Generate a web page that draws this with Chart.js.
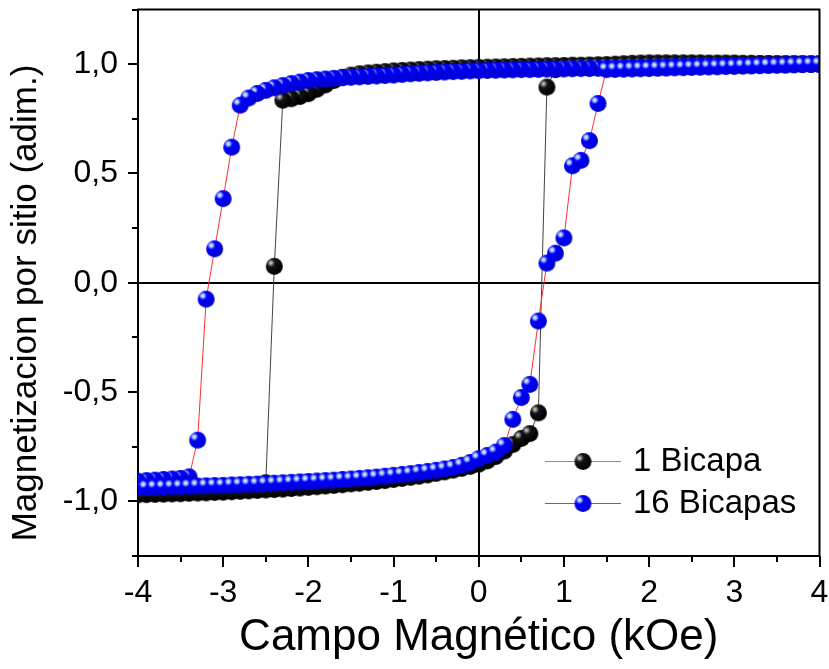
<!DOCTYPE html>
<html>
<head>
<meta charset="utf-8">
<title>Magnetizacion por sitio</title>
<script src="https://cdn.jsdelivr.net/npm/chart.js@4.4.1/dist/chart.umd.min.js"></script>
<style>
  html, body { margin: 0; padding: 0; background: #fff; }
  #grafico { display: block; }
</style>
</head>
<body>
<canvas id="grafico" width="829" height="669"></canvas>
<script>
// campo aplicado (kOe), rama de bajada de +4 a -4
const campoBajada = [
   4.0,  3.9,  3.8,  3.7,  3.6,  3.5,  3.4,  3.3,  3.2,  3.1,
   3.0,  2.9,  2.8,  2.7,  2.6,  2.5,  2.4,  2.3,  2.2,  2.1,
   2.0,  1.9,  1.8,  1.7,  1.6,  1.5,  1.4,  1.3,  1.2,  1.1,
   1.0,  0.9,  0.8,  0.7,  0.6,  0.5,  0.4,  0.3,  0.2,  0.1,
   0.0, -0.1, -0.2, -0.3, -0.4, -0.5, -0.6, -0.7, -0.8, -0.9,
  -1.0, -1.1, -1.2, -1.3, -1.4, -1.5, -1.6, -1.7, -1.8, -1.9,
  -2.0, -2.1, -2.2, -2.3, -2.4, -2.5, -2.6, -2.7, -2.8, -2.9,
  -3.0, -3.1, -3.2, -3.3, -3.4, -3.5, -3.6, -3.7, -3.8, -3.9,
  -4.0
];
// rama de subida, de -4 a +4
const campoSubida = campoBajada.slice().reverse();

// 1 bicapa
const mBicapa1Bajada = [
   1.000,  1.000,  1.001,  1.001,  1.002,  1.002,  1.003,  1.003,  1.004,  1.004,
   1.005,  1.005,  1.005,  1.005,  1.006,  1.006,  1.006,  1.006,  1.006,  1.006,
   1.006,  1.005,  1.004,  1.002,  1.000,  0.998,  0.997,  0.996,  0.995,  0.995,
   0.994,  0.993,  0.993,  0.992,  0.991,  0.990,  0.989,  0.988,  0.987,  0.986,
   0.985,  0.984,  0.983,  0.981,  0.980,  0.979,  0.977,  0.975,  0.973,  0.971,
   0.969,  0.966,  0.963,  0.960,  0.956,  0.950,  0.940,  0.925,  0.905,  0.885,
   0.865,  0.852,  0.842,  0.835,  0.075, -0.915, -0.925, -0.930, -0.935, -0.940,
  -0.943, -0.946, -0.948, -0.950, -0.952, -0.954, -0.956, -0.958, -0.960, -0.962,
  -0.965
];
const mBicapa1Subida = [
  -0.970, -0.969, -0.968, -0.967, -0.966, -0.965, -0.963, -0.962, -0.961, -0.959,
  -0.958, -0.956, -0.954, -0.952, -0.950, -0.948, -0.946, -0.944, -0.941, -0.939,
  -0.936, -0.933, -0.930, -0.927, -0.924, -0.920, -0.917, -0.913, -0.909, -0.905,
  -0.900, -0.895, -0.890, -0.885, -0.879, -0.872, -0.865, -0.857, -0.849, -0.840,
  -0.830, -0.815, -0.795, -0.770, -0.740, -0.712, -0.690, -0.595,  0.895,  0.975,
   0.985,  0.988,  0.990,  0.991,  0.992,  0.993,  0.994,  0.995,  0.996,  0.996,
   0.997,  0.997,  0.998,  0.998,  0.998,  0.999,  0.999,  0.999,  1.000,  1.000,
   1.000,  1.000,  1.000,  1.001,  1.001,  1.001,  1.001,  1.002,  1.002,  1.002,
   1.002
];

// 16 bicapas
const mBicapas16Bajada = [
   1.000,  1.000,  0.999,  0.998,  0.997,  0.997,  0.996,  0.995,  0.994,  0.994,
   0.993,  0.993,  0.992,  0.992,  0.991,  0.990,  0.990,  0.989,  0.988,  0.987,
   0.986,  0.986,  0.985,  0.984,  0.983,  0.982,  0.981,  0.980,  0.980,  0.979,
   0.978,  0.977,  0.977,  0.976,  0.975,  0.975,  0.974,  0.973,  0.972,  0.971,
   0.970,  0.969,  0.967,  0.966,  0.964,  0.962,  0.960,  0.958,  0.956,  0.953,
   0.950,  0.948,  0.946,  0.944,  0.942,  0.940,  0.938,  0.935,  0.932,  0.929,
   0.925,  0.918,  0.911,  0.902,  0.892,  0.880,  0.866,  0.845,  0.812,  0.620,
   0.385,  0.155, -0.075, -0.720, -0.888, -0.895, -0.898, -0.900, -0.903, -0.905,
  -0.908
];
const mBicapas16Subida = [
  -0.938, -0.937, -0.936, -0.935, -0.934, -0.933, -0.932, -0.930, -0.929, -0.928,
  -0.927, -0.925, -0.924, -0.922, -0.921, -0.919, -0.917, -0.915, -0.913, -0.911,
  -0.909, -0.907, -0.905, -0.903, -0.900, -0.898, -0.895, -0.892, -0.889, -0.885,
  -0.881, -0.877, -0.873, -0.868, -0.863, -0.858, -0.852, -0.845, -0.835, -0.822,
  -0.805, -0.790, -0.775, -0.745, -0.625, -0.525, -0.465, -0.175,  0.090,  0.135,
   0.205,  0.535,  0.560,  0.650,  0.820,  0.975,  0.976,  0.977,  0.978,  0.979,
   0.980,  0.981,  0.982,  0.983,  0.984,  0.985,  0.986,  0.987,  0.988,  0.989,
   0.990,  0.991,  0.992,  0.993,  0.994,  0.995,  0.996,  0.997,  0.998,  0.999,
   1.000
];

const xTicks = [-4, -3, -2, -1, 0, 1, 2, 3, 4];
const xMinor = [-3.5, -2.5, -1.5, -0.5, 0.5, 1.5, 2.5, 3.5];
const yTicks = [-1.0, -0.5, 0.0, 0.5, 1.0];
const yMinor = [-1.25, -0.75, -0.25, 0.25, 0.75, 1.25];

const tituloY = 'Magnetizacion por sitio (adim.)';
const FUENTE = "'Liberation Sans', Arial, sans-serif";

// bolita con brillo arriba a la izquierda
function esfera(radio, claro, medio, base, borde) {
  const c = document.createElement('canvas');
  const d = Math.ceil(radio * 2) + 2;
  c.width = d;
  c.height = d;
  const g = c.getContext('2d');
  const cx = d / 2, cy = d / 2;
  const hx = cx - radio * 0.4, hy = cy - radio * 0.4;
  const grad = g.createRadialGradient(hx, hy, 0, hx, hy, radio * 1.4);
  grad.addColorStop(0, claro);
  grad.addColorStop(0.14, medio);
  grad.addColorStop(0.34, base);
  grad.addColorStop(1, borde);
  g.fillStyle = grad;
  g.beginPath();
  g.arc(cx, cy, radio, 0, Math.PI * 2);
  g.fill();
  return c;
}

const esferaNegra = esfera(8.5, '#e6e6e6', '#8c8c8c', '#141414', '#000000');
const esferaAzul = esfera(8.5, '#eef6ff', '#a4c4f0', '#0000ff', '#0000d2');

function puntos(campos, valores) {
  return campos.map((h, i) => ({x: h, y: valores[i]}));
}

const leyenda = [
  {texto: '1 Bicapa', linea: '#8a8a8a', esfera: esferaNegra},
  {texto: '16 Bicapas', linea: '#ff2a2a', esfera: esferaAzul}
];

const marco = {
  id: 'marco',
  beforeDatasetsDraw(chart) {
    const {ctx, chartArea: a, scales: {x, y}} = chart;
    const x0 = Math.round(x.getPixelForValue(0));
    const y0 = Math.round(y.getPixelForValue(0));
    ctx.save();
    ctx.strokeStyle = '#000';
    ctx.lineWidth = 2;
    ctx.beginPath();
    ctx.moveTo(x0, a.top);
    ctx.lineTo(x0, a.bottom);
    ctx.moveTo(a.left, y0);
    ctx.lineTo(a.right, y0);
    ctx.stroke();
    ctx.restore();
  },
  afterDraw(chart) {
    const {ctx, chartArea: a, scales: {x, y}} = chart;
    ctx.save();
    ctx.strokeStyle = '#000';
    ctx.lineWidth = 2;
    ctx.beginPath();
    // marco superior y derecho
    ctx.moveTo(a.left - 1, a.top);
    ctx.lineTo(a.right, a.top);
    ctx.lineTo(a.right, a.bottom + 1);
    // marcas de los ejes
    xTicks.forEach(v => { const p = Math.round(x.getPixelForValue(v)); ctx.moveTo(p, a.bottom); ctx.lineTo(p, a.bottom + 11); });
    xMinor.forEach(v => { const p = Math.round(x.getPixelForValue(v)); ctx.moveTo(p, a.bottom); ctx.lineTo(p, a.bottom + 6); });
    yTicks.forEach(v => { const p = Math.round(y.getPixelForValue(v)); ctx.moveTo(a.left, p); ctx.lineTo(a.left - 10, p); });
    yMinor.forEach(v => { const p = Math.round(y.getPixelForValue(v)); ctx.moveTo(a.left, p); ctx.lineTo(a.left - 6, p); });
    ctx.stroke();

    // titulo del eje y, algo por debajo del centro
    ctx.fillStyle = '#000';
    ctx.font = '35px ' + FUENTE;
    ctx.textAlign = 'center';
    ctx.textBaseline = 'middle';
    ctx.save();
    ctx.translate(26, 303);
    ctx.rotate(-Math.PI / 2);
    ctx.fillText(tituloY, 0, 0);
    ctx.restore();

    // leyenda
    ctx.font = '33px ' + FUENTE;
    ctx.textAlign = 'left';
    leyenda.forEach((item, i) => {
      const ly = 461.5 + i * 42;
      ctx.strokeStyle = item.linea;
      ctx.lineWidth = 1;
      ctx.beginPath();
      ctx.moveTo(545, ly);
      ctx.lineTo(621, ly);
      ctx.stroke();
      ctx.drawImage(item.esfera, 583 - item.esfera.width / 2, ly - item.esfera.height / 2);
      ctx.fillText(item.texto, 633, ly);
    });
    ctx.restore();
  }
};

new Chart(document.getElementById('grafico'), {
  type: 'scatter',
  data: {
    datasets: [{
      label: '1 Bicapa',
      data: puntos(campoBajada, mBicapa1Bajada).concat(puntos(campoSubida, mBicapa1Subida)),
      showLine: true,
      borderColor: '#444444',
      borderWidth: 1,
      pointStyle: esferaNegra,
      pointRadius: 8.5,
      order: 2
    }, {
      label: '16 Bicapas',
      data: puntos(campoBajada, mBicapas16Bajada).concat(puntos(campoSubida, mBicapas16Subida)),
      showLine: true,
      borderColor: '#ff3030',
      borderWidth: 1,
      pointStyle: esferaAzul,
      pointRadius: 8.5,
      order: 1
    }]
  },
  options: {
    responsive: false,
    animation: false,
    devicePixelRatio: 1,
    layout: {padding: {left: 0, top: 2, right: 7, bottom: 0}},
    plugins: {
      legend: {display: false},
      tooltip: {enabled: false}
    },
    scales: {
      x: {
        type: 'linear',
        min: -4,
        max: 4,
        afterBuildTicks: s => { s.ticks = xTicks.map(v => ({value: v})); },
        afterFit: s => { s.height = 113; s.paddingLeft = 0; s.paddingRight = 0; },
        grid: {drawOnChartArea: false, drawTicks: false},
        border: {color: '#000', width: 2},
        ticks: {
          autoSkip: false,
          maxRotation: 0,
          padding: 18,
          color: '#000',
          font: {family: FUENTE, size: 32},
          callback: v => String(v)
        },
        title: {
          display: true,
          text: 'Campo Magnético (kOe)',
          color: '#000',
          font: {family: FUENTE, size: 44},
          padding: {top: 0, bottom: 5}
        }
      },
      y: {
        type: 'linear',
        min: -1.25,
        max: 1.25,
        afterBuildTicks: s => { s.ticks = yTicks.map(v => ({value: v})); },
        afterFit: s => { s.width = 138; s.paddingTop = 0; s.paddingBottom = 0; },
        grid: {drawOnChartArea: false, drawTicks: false},
        border: {color: '#000', width: 2},
        ticks: {
          padding: 20,
          color: '#000',
          font: {family: FUENTE, size: 32},
          callback: v => v.toFixed(1).replace('.', ',')
        }
      }
    }
  },
  plugins: [marco]
});
</script>
</body>
</html>
